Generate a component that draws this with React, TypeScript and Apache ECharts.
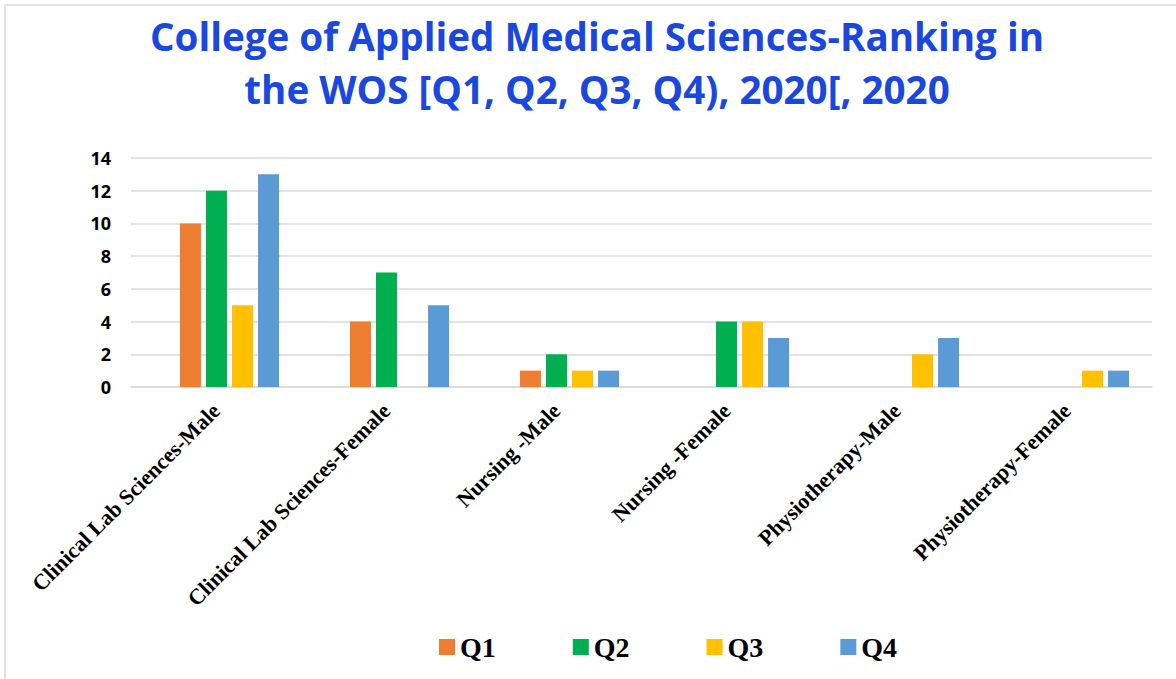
import React, { useEffect, useRef } from "react";
import * as echarts from "echarts";

const categories = [
  "Clinical Lab Sciences-Male",
  "Clinical Lab Sciences-Female",
  "Nursing -Male",
  "Nursing -Female",
  "Physiotherapy-Male",
  "Physiotherapy-Female",
];
const q1 = [10, 4, 1, 0, 0, 0];
const q2 = [12, 7, 2, 4, 0, 0];
const q3 = [5, 0, 1, 4, 2, 1];
const q4 = [13, 5, 1, 3, 3, 1];
const seriesNames = ["Q1", "Q2", "Q3", "Q4"];
const seriesColors = ["#ed7d31", "#00b050", "#ffc000", "#5b9bd5"];
const yTicks = { min: 0, max: 14, interval: 2 };

export default function App() {
  const ref = useRef<HTMLDivElement>(null);
  useEffect(() => {
    if (!ref.current) return;
    const chart = echarts.init(ref.current, null, { renderer: "svg" });
    const data = [q1, q2, q3, q4];
    chart.setOption({
      animation: false,
      backgroundColor: "#ffffff",
      title: {
        text: "College of Applied Medical Sciences-Ranking in\nthe WOS [Q1, Q2, Q3, Q4), 2020[, 2020",
        left: 597,
        textAlign: "center",
        top: 9,
        padding: 0,
        textStyle: {
          fontFamily: "Open Sans",
          fontWeight: "bold",
          fontSize: 38.6,
          lineHeight: 53,
          color: "#1a47e0",
        },
      },
      graphic: [
        {
          type: "rect",
          shape: { x: 5, y: 5, width: 1250, height: 750 },
          style: { fill: "none", stroke: "#d9d9d9", lineWidth: 1.5 },
          silent: true,
        },
      ],
      legend: {
        top: 628,
        left: 434,
        itemWidth: 16,
        itemHeight: 16,
        itemGap: 77,
        icon: "rect",
        textStyle: {
          fontFamily: "Liberation Serif",
          fontWeight: "bold",
          fontSize: 28,
          color: "#000",
        },
        data: seriesNames,
      },
      grid: [
        { left: 131, right: 24, top: 158, bottom: 292 },
        { left: 144.5, right: 11.5, top: 158, bottom: 292 },
      ],
      xAxis: [
        {
          type: "category",
          gridIndex: 0,
          data: categories,
          axisLine: { show: true, lineStyle: { color: "#d9d9d9", width: 1.5 } },
          axisTick: { show: false },
          axisLabel: {
            rotate: 45,
            interval: 0,
            margin: 20,
            fontFamily: "Liberation Serif",
            fontWeight: "bold",
            fontSize: 22,
            color: "#000",
          },
        },
        {
          type: "category",
          gridIndex: 1,
          data: categories,
          axisLine: { show: false },
          axisTick: { show: false },
          axisLabel: { show: false },
        },
      ],
      yAxis: [
        {
          type: "value",
          gridIndex: 0,
          min: yTicks.min,
          max: yTicks.max,
          interval: yTicks.interval,
          axisLine: { show: false },
          axisTick: { show: false },
          splitLine: { lineStyle: { color: "#d9d9d9", width: 1.5 } },
          axisLabel: {
            margin: 20,
            fontFamily: "Open Sans",
            fontWeight: "bold",
            fontSize: 18,
            color: "#000",
          },
        },
        {
          type: "value",
          gridIndex: 1,
          min: yTicks.min,
          max: yTicks.max,
          interval: yTicks.interval,
          show: false,
          splitLine: { show: false },
        },
      ],
      series: seriesNames.map((name, i) => ({
        name,
        type: "bar",
        xAxisIndex: 1,
        yAxisIndex: 1,
        data: data[i],
        barWidth: 21,
        barGap: "24%",
        itemStyle: { color: seriesColors[i] },
      })),
    });
    return () => chart.dispose();
  }, []);
  return (
    <div
      ref={ref}
      style={{ position: "absolute", left: 0, top: 0, width: 1176, height: 679 }}
    />
  );
}
